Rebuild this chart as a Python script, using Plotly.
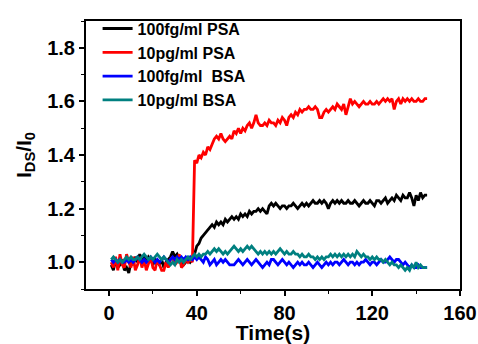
import plotly.graph_objects as go

time_s = list(range(1, 146))

psa_100fg = [0.99, 0.97, 1.01, 0.98, 0.99, 1.01, 0.97, 0.98, 0.96, 1.00,
             0.99, 1.02, 1.00, 1.03, 1.01, 1.02, 1.00, 1.02, 1.01, 0.99,
             1.01, 1.00, 0.99, 1.01, 0.98, 1.00, 1.01, 1.02, 1.04, 1.02,
             1.03, 1.01, 1.00, 0.99, 1.00, 1.01, 1.00, 1.01, 1.03, 1.06,
             1.07, 1.09, 1.10, 1.11, 1.12, 1.13, 1.14, 1.13, 1.15, 1.14,
             1.15, 1.14, 1.16, 1.15, 1.16, 1.17, 1.16, 1.17, 1.16, 1.18,
             1.17, 1.18, 1.17, 1.19, 1.18, 1.19, 1.19, 1.20, 1.19, 1.20,
             1.19, 1.18, 1.21, 1.22, 1.21, 1.22, 1.21, 1.20, 1.21, 1.21,
             1.20, 1.21, 1.21, 1.22, 1.21, 1.20, 1.21, 1.22, 1.21, 1.22,
             1.21, 1.22, 1.23, 1.22, 1.22, 1.23, 1.22, 1.23, 1.22, 1.20,
             1.22, 1.23, 1.22, 1.23, 1.22, 1.23, 1.22, 1.22, 1.23, 1.22,
             1.22, 1.23, 1.22, 1.21, 1.22, 1.23, 1.22, 1.22, 1.23, 1.22,
             1.21, 1.23, 1.23, 1.22, 1.23, 1.24, 1.22, 1.23, 1.24, 1.23,
             1.25, 1.24, 1.23, 1.25, 1.24, 1.24, 1.26, 1.24, 1.21, 1.25,
             1.23, 1.26, 1.24, 1.25, 1.25]

psa_10pg = [1.00, 0.98, 1.02, 0.97, 1.03, 0.99, 0.98, 1.03, 1.00, 0.98,
            1.02, 0.97, 0.99, 1.02, 0.98, 1.01, 0.97, 1.00, 1.02, 0.98,
            0.97, 1.01, 0.99, 0.97, 0.97, 1.00, 0.98, 1.01, 1.02, 0.99,
            1.00, 1.03, 0.98, 0.99, 1.01, 1.00, 1.01, 1.00, 1.38, 1.37,
            1.40, 1.39, 1.41, 1.40, 1.43, 1.42, 1.44, 1.46, 1.47, 1.46,
            1.48, 1.46, 1.45, 1.46, 1.47, 1.46, 1.49, 1.48, 1.50, 1.48,
            1.50, 1.49, 1.51, 1.52, 1.50, 1.52, 1.55, 1.52, 1.51, 1.51,
            1.52, 1.51, 1.53, 1.52, 1.52, 1.51, 1.53, 1.52, 1.54, 1.53,
            1.51, 1.54, 1.55, 1.54, 1.56, 1.55, 1.57, 1.56, 1.57, 1.57,
            1.58, 1.57, 1.57, 1.58, 1.57, 1.54, 1.54, 1.56, 1.57, 1.56,
            1.57, 1.58, 1.57, 1.59, 1.58, 1.57, 1.59, 1.55, 1.58, 1.61,
            1.59, 1.60, 1.59, 1.58, 1.59, 1.60, 1.59, 1.59, 1.60, 1.59,
            1.59, 1.60, 1.59, 1.60, 1.61, 1.60, 1.61, 1.60, 1.61, 1.57,
            1.60, 1.61, 1.59, 1.61, 1.60, 1.61, 1.60, 1.61, 1.60, 1.60,
            1.61, 1.60, 1.60, 1.61, 1.61]

bsa_100fg = [1.01, 1.00, 1.01, 1.00, 1.01, 1.00, 1.00, 1.01, 1.00, 1.01,
             1.00, 1.01, 1.02, 1.01, 1.00, 1.01, 1.00, 1.01, 1.02, 1.01,
             1.00, 1.01, 1.00, 1.01, 1.02, 1.01, 1.00, 1.01, 1.02, 1.01,
             1.02, 1.01, 1.02, 1.01, 1.02, 1.01, 1.02, 1.01, 1.02, 1.01,
             1.02, 1.01, 1.00, 1.02, 1.01, 0.99, 1.00, 1.01, 0.99, 1.00,
             1.01, 1.00, 1.01, 1.00, 0.99, 0.99, 0.99, 1.00, 1.01, 1.00,
             0.99, 1.00, 1.01, 1.00, 0.99, 1.00, 1.01, 1.00, 0.99, 0.98,
             0.99, 1.00, 0.99, 1.01, 1.01, 1.00, 0.99, 1.00, 1.01, 1.00,
             0.99, 1.00, 0.99, 0.98, 0.99, 1.00, 0.99, 1.00, 0.99, 0.99,
             1.00, 0.99, 0.98, 0.99, 1.00, 0.99, 0.98, 0.99, 1.00, 0.99,
             1.00, 0.99, 1.00, 1.00, 0.99, 1.00, 1.01, 1.00, 0.99, 1.00,
             1.00, 0.99, 1.00, 0.99, 1.00, 1.00, 1.01, 1.00, 0.99, 1.00,
             1.00, 0.99, 1.00, 1.01, 1.00, 1.00, 1.01, 1.02, 1.01, 1.00,
             1.01, 1.01, 1.00, 0.99, 1.00, 0.99, 0.98, 0.99, 0.98, 0.98,
             0.99, 0.98, 0.98, 0.98, 0.98]

bsa_10pg = [1.01, 1.02, 1.01, 1.00, 1.01, 1.00, 1.01, 1.02, 1.01, 1.02,
            1.01, 1.01, 1.02, 1.01, 1.02, 1.03, 1.02, 1.01, 1.02, 1.01,
            1.02, 1.03, 1.02, 1.01, 1.02, 1.01, 1.00, 0.99, 1.00, 0.99,
            1.01, 1.00, 1.01, 1.00, 1.01, 1.02, 1.01, 1.02, 1.03, 1.02,
            1.03, 1.02, 1.03, 1.03, 1.04, 1.03, 1.04, 1.05, 1.04, 1.05,
            1.04, 1.03, 1.04, 1.03, 1.04, 1.05, 1.06, 1.05, 1.04, 1.05,
            1.04, 1.05, 1.06, 1.05, 1.06, 1.05, 1.04, 1.03, 1.04, 1.03,
            1.04, 1.03, 1.04, 1.03, 1.04, 1.03, 1.04, 1.05, 1.04, 1.03,
            1.04, 1.03, 1.03, 1.04, 1.03, 1.03, 1.02, 1.03, 1.02, 1.02,
            1.03, 1.02, 1.02, 1.01, 1.02, 1.01, 1.02, 1.01, 1.02, 1.02,
            1.03, 1.02, 1.03, 1.02, 1.03, 1.02, 1.03, 1.02, 1.03, 1.02,
            1.03, 1.02, 1.04, 1.03, 1.02, 1.03, 1.02, 1.02, 1.01, 1.02,
            1.01, 1.02, 1.01, 1.01, 1.00, 1.01, 1.00, 0.99, 1.00, 0.99,
            0.99, 0.98, 0.99, 0.98, 0.97, 0.98, 0.97, 0.99, 0.98, 1.00,
            0.98, 0.99, 0.98, 0.98, 0.98]

series_names = ["100fg/ml PSA", "10pg/ml PSA", "100fg/ml  BSA", "10pg/ml BSA"]
series_colors = ["#000000", "#ff0000", "#0000ff", "#008080"]
series_values = [psa_100fg, psa_10pg, bsa_100fg, bsa_10pg]

x_ticks = [0, 40, 80, 120, 160]
y_ticks = [1.0, 1.2, 1.4, 1.6, 1.8]

FONT = "Liberation Sans, Arial, sans-serif"

fig = go.Figure()
for name, color, vals in zip(series_names, series_colors, series_values):
    fig.add_trace(go.Scatter(
        x=time_s, y=vals, mode="lines", name=name.replace("  ", "\u00a0\u00a0"),
        line=dict(color=color, width=2.8),
    ))

axis_common = dict(
    showline=True, linecolor="black", linewidth=2,
    ticks="outside", ticklen=5, tickwidth=1.5, tickcolor="black",
    showgrid=False, zeroline=False, automargin=False,
    tickfont=dict(family=FONT, size=20, color="black", weight="bold"),
)

fig.update_layout(
    width=478, height=344,
    margin=dict(l=86, r=18, t=16, b=55),
    paper_bgcolor="white", plot_bgcolor="white",
    showlegend=True,
    legend=dict(
        x=0.031, y=1.035, xanchor="left", yanchor="top",
        bgcolor="rgba(0,0,0,0)", borderwidth=0,
        font=dict(family=FONT, size=16, color="black", weight="bold"),
        tracegroupgap=0,
    ),
    xaxis=dict(
        **axis_common, mirror=True,
        range=[-10.5, 160], tickvals=x_ticks,
        minor=dict(dtick=20, tick0=0, ticks="outside", ticklen=3, tickwidth=1.2, tickcolor="black"),
        title=dict(text="Time(s)", standoff=8,
                   font=dict(family=FONT, size=21, color="black", weight="bold")),
    ),
    yaxis=dict(
        **axis_common, mirror=True,
        range=[0.9, 1.9], tickvals=y_ticks, ticktext=[f"{v:.1f}" for v in y_ticks],
        minor=dict(dtick=0.1, tick0=0.9, ticks="outside", ticklen=3, tickwidth=1.2, tickcolor="black"),
        title=dict(text="I<sub>DS</sub>/I<sub>0</sub>", standoff=10,
                   font=dict(family=FONT, size=21, color="black", weight="bold")),
    ),
    yaxis2=dict(
        overlaying="y", side="right", range=[0.9, 1.9],
        tickvals=[1.0, 1.2, 1.4, 1.6, 1.8], showticklabels=False,
        ticks="inside", ticklen=4, tickwidth=1.5, tickcolor="black",
        showgrid=False, zeroline=False, showline=False, automargin=False,
    ),
)

fig.write_html("out.html", config={"displayModeBar": False},
               post_script="document.body.style.margin='0';")
